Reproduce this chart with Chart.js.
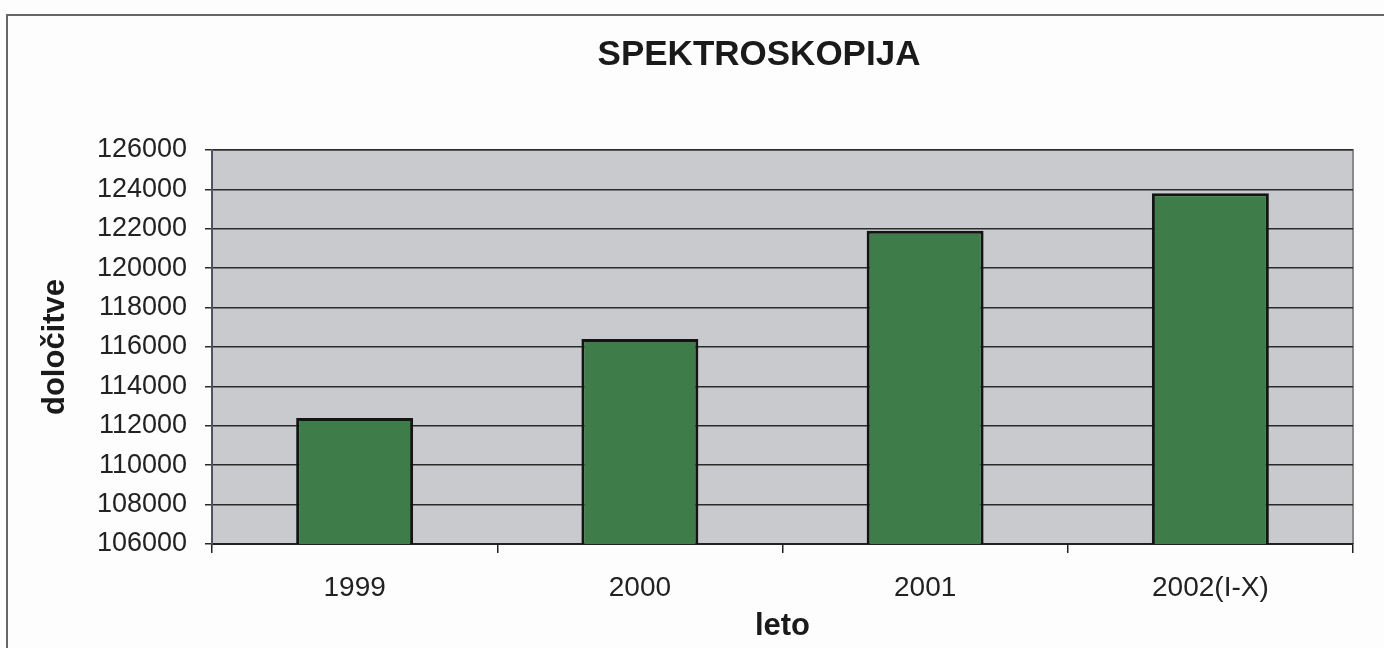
<!DOCTYPE html>
<html>
<head>
<script src="https://cdn.jsdelivr.net/npm/chart.js@4.4.1/dist/chart.umd.min.js"></script>
<style>
    body { margin: 0; background: #fdfdfd; }
    #frame {
        position: absolute; left: 6px; top: 14px; width: 1400px; height: 660px;
        border-top: 2px solid #666; border-left: 2px solid #666;
    }
    #chart-div { position: absolute; left: 0; top: 0; width: 1384px; height: 648px; }
</style>
</head>
<body>
<div id="frame"></div>
<div id="chart-div"><canvas id="chart"></canvas></div>
<script>
const years = ['1999', '2000', '2001', '2002(I-X)'];
const counts = [112400, 116400, 121900, 123800];
const yMin = 106000;
const yMax = 126000;
const yStep = 2000;
const chartTitle = 'SPEKTROSKOPIJA';

const fam = '"Liberation Sans", Arial, sans-serif';

// siva podlaga, okvir risalne ploskve in naslov (nekoliko levo od sredine)
const plotBg = {
    id: 'plotBg',
    beforeDraw(chart) {
        const {ctx, chartArea: a} = chart;
        ctx.save();
        ctx.fillStyle = '#c9cacd';
        ctx.fillRect(a.left, a.top, a.right - a.left, a.bottom - a.top);
        ctx.strokeStyle = '#8a8a8a';
        ctx.lineWidth = 2;
        ctx.beginPath();
        ctx.moveTo(a.left, a.top);
        ctx.lineTo(a.right, a.top);
        ctx.lineTo(a.right, a.bottom);
        ctx.stroke();
        ctx.restore();
    },
    afterDraw(chart) {
        const ctx = chart.ctx;
        ctx.save();
        ctx.font = 'bold 35px ' + fam;
        ctx.fillStyle = '#1a1a1a';
        ctx.textAlign = 'center';
        ctx.textBaseline = 'middle';
        ctx.fillText(chartTitle, 759, 55);
        ctx.restore();
    }
};

const tickFont = {family: fam, size: 28};
const boldFont = {family: fam, size: 31, weight: 'bold'};

new Chart(document.getElementById('chart'), {
    type: 'bar',
    data: {
        labels: years,
        datasets: [{
            data: counts,
            backgroundColor: '#3e7d49',
            borderColor: '#141414',
            borderWidth: 3,
            borderSkipped: 'bottom',
            barPercentage: 0.41,
            categoryPercentage: 1
        }]
    },
    options: {
        responsive: true,
        maintainAspectRatio: false,
        animation: false,
        layout: { padding: { left: 0, right: 31, top: 150, bottom: 0 } },
        plugins: {
            legend: { display: false },
            tooltip: { enabled: false }
        },
        scales: {
            x: {
                afterFit(scale) { scale.height = 104; },
                grid: {
                    display: true, drawOnChartArea: false, drawTicks: true,
                    tickLength: 9, color: '#222', lineWidth: 1.5
                },
                border: { color: '#222', width: 2 },
                ticks: { color: '#222', font: tickFont, padding: 18 },
                title: { display: true, text: 'leto', color: '#1a1a1a', font: boldFont, padding: { top: 0, bottom: 3 } }
            },
            y: {
                min: yMin,
                max: yMax,
                afterFit(scale) { scale.width = 212; },
                grid: { color: '#2a2a2a', lineWidth: 1.5, tickLength: 7 },
                border: { color: '#4a5560', width: 2 },
                ticks: {
                    stepSize: yStep, color: '#222', font: {family: fam, size: 27}, padding: 18,
                    callback: v => String(v)
                },
                title: { display: true, text: 'določitve', color: '#1a1a1a', font: boldFont, padding: { top: 37, bottom: 0 } }
            }
        }
    },
    plugins: [plotBg]
});
</script>
</body>
</html>
